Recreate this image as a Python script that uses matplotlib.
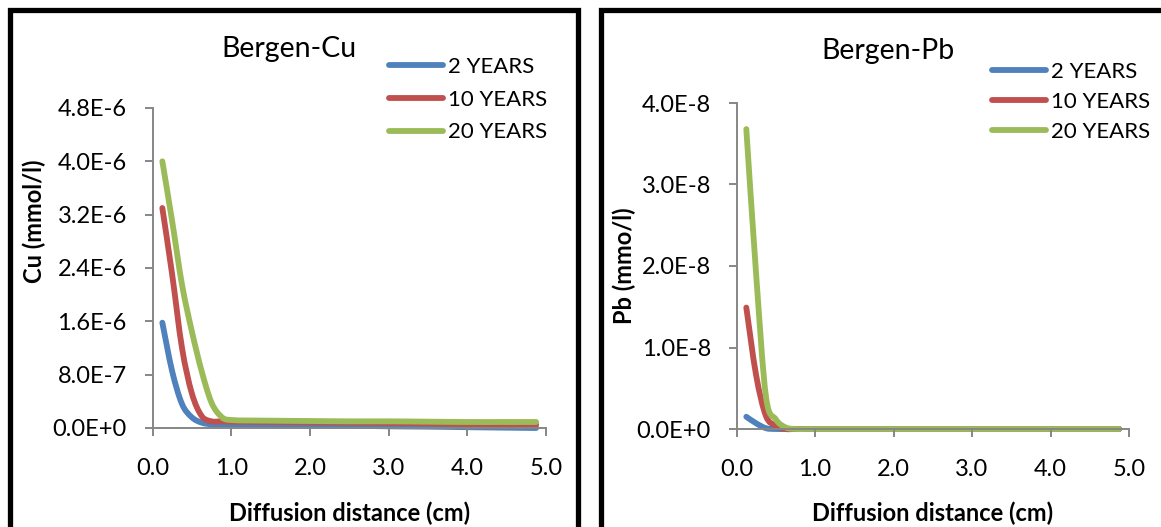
import math
import matplotlib
matplotlib.use("Agg")
import matplotlib.pyplot as plt
import matplotlib.ticker as ticker
from matplotlib.lines import Line2D
from matplotlib.path import Path
from matplotlib.patches import PathPatch

plt.rcParams["font.family"] = ["Lato", "DejaVu Sans"]

# diffusion distance (cm)
distance = [0.125, 0.25, 0.375, 0.5, 0.625, 0.75, 0.875, 1.0, 1.5, 2.0, 2.5, 3.0, 3.5, 4.0, 4.5, 4.875]
series_names = ["2 YEARS", "10 YEARS", "20 YEARS"]

# Cu concentration (mmol/l)
cu_2y = [1.58e-6, 0.85e-6, 0.36e-6, 0.16e-6, 0.08e-6, 0.055e-6, 0.05e-6, 0.05e-6, 0.045e-6, 0.04e-6,
         0.035e-6, 0.025e-6, 0.02e-6, 0.012e-6, 0.005e-6, 0.0]
cu_10y = [3.3e-6, 2.3e-6, 1.2e-6, 0.52e-6, 0.18e-6, 0.1e-6, 0.1e-6, 0.095e-6, 0.09e-6, 0.085e-6,
          0.08e-6, 0.075e-6, 0.07e-6, 0.06e-6, 0.055e-6, 0.05e-6]
cu_20y = [4.0e-6, 3.1e-6, 2.15e-6, 1.45e-6, 0.85e-6, 0.38e-6, 0.17e-6, 0.12e-6, 0.11e-6, 0.105e-6,
          0.1e-6, 0.1e-6, 0.095e-6, 0.09e-6, 0.09e-6, 0.09e-6]

# Pb concentration (mmol/l)
pb_2y = [0.15e-8, 0.07e-8, 0.01e-8, 0.0, 0.0, 0.0, 0.0, 0.0, 0.0, 0.0, 0.0, 0.0, 0.0, 0.0, 0.0, 0.0]
pb_10y = [1.49e-8, 0.66e-8, 0.16e-8, 0.04e-8, 0.0, 0.0, 0.0, 0.0, 0.0, 0.0, 0.0, 0.0, 0.0, 0.0, 0.0, 0.0]
pb_20y = [3.68e-8, 1.9e-8, 0.4e-8, 0.12e-8, 0.02e-8, 0.0, 0.0, 0.0, 0.0, 0.0, 0.0, 0.0, 0.0, 0.0, 0.0, 0.0]

colors = ["#4F81BD", "#C0504D", "#9BBB59"]
W, H = 1161, 527
LW = 4.2


def sci_fmt(v, pos):
    if abs(v) < 1e-15:
        return "0.0E+0"
    e = math.floor(math.log10(abs(v)) + 1e-9)
    m = round(v / 10 ** e, 1)
    if abs(m) >= 10:
        m /= 10
        e += 1
    return f"{m:.1f}E{e:+d}"


def smooth_path(x, y):
    # Excel style smoothed line: cubic bezier through every point
    verts = [(x[0], y[0])]
    codes = [Path.MOVETO]
    n = len(x)
    for i in range(n - 1):
        a = max(i - 1, 0)
        b = min(i + 2, n - 1)
        c1 = (x[i] + (x[i + 1] - x[a]) / 6, y[i] + (y[i + 1] - y[a]) / 6)
        c2 = (x[i + 1] - (x[b] - x[i]) / 6, y[i + 1] - (y[b] - y[i]) / 6)
        verts += [c1, c2, (x[i + 1], y[i + 1])]
        codes += [Path.CURVE4] * 3
    return Path(verts, codes)


def draw_panel(ax, series, ymax, ystep, title, ylabel, title_xy, ylabel_xy, legend_xy, spacing):
    handles = []
    for vals, name, c in zip(series, series_names, colors):
        ax.add_patch(PathPatch(smooth_path(distance, vals), fill=False, edgecolor=c, lw=LW,
                               capstyle="round", joinstyle="round", clip_on=False))
        h, = ax.plot([], [], color=c, lw=LW, solid_capstyle="round", label=name)
        handles.append(h)
    ax.set_xlim(0, 5)
    ax.set_ylim(0, ymax)
    ax.xaxis.set_major_locator(ticker.MultipleLocator(1.0))
    ax.xaxis.set_major_formatter(ticker.FormatStrFormatter("%.1f"))
    ax.yaxis.set_major_locator(ticker.MultipleLocator(ystep))
    ax.yaxis.set_major_formatter(ticker.FuncFormatter(sci_fmt))
    for s in ["top", "right"]:
        ax.spines[s].set_visible(False)
    for s in ["left", "bottom"]:
        ax.spines[s].set_color("#868686")
        ax.spines[s].set_linewidth(1.4)
    ax.tick_params(axis="both", colors="#868686", labelcolor="black", width=1.4, length=5.5,
                   labelsize=17)
    ax.tick_params(axis="x", pad=16)
    ax.tick_params(axis="y", pad=13)
    ax.set_xlabel("Diffusion distance (cm)", fontsize=17, fontweight="bold")
    fig.text(title_xy[0] / W, 1 - title_xy[1] / H, title, fontsize=20.5, ha="center", va="baseline")
    fig.text(ylabel_xy[0] / W, 1 - ylabel_xy[1] / H, ylabel, fontsize=17, fontweight="bold",
             rotation=90, ha="center", va="center")
    ax.legend(handles=handles, loc="upper left", bbox_to_anchor=(legend_xy[0] / W, 1 - legend_xy[1] / H),
              bbox_transform=fig.transFigure, frameon=False, fontsize=16, borderpad=0,
              handlelength=2.45, handletextpad=0.2, labelspacing=spacing, borderaxespad=0)


fig = plt.figure(figsize=(W / 100, H / 100), dpi=100)
fig.patch.set_facecolor("white")

ax1 = fig.add_axes([152.5 / W, (H - 428) / H, (546 - 152.5) / W, 320 / H])
ax2 = fig.add_axes([736.5 / W, (H - 429) / H, (1129 - 736.5) / W, 326 / H])

draw_panel(ax1, [cu_2y, cu_10y, cu_20y], 4.8e-6, 0.8e-6, "Bergen-Cu", "Cu (mmol/l)",
           (289, 57), (34, 221), (389, 57), 0.57)
draw_panel(ax2, [pb_2y, pb_10y, pb_20y], 4.0e-8, 1.0e-8, "Bergen-Pb", "Pb (mmo/l)",
           (888, 59), (624, 266), (992, 62), 0.44)

ax1.xaxis.set_label_coords(0.5, -(502 - 428) / 320)
ax2.xaxis.set_label_coords(0.5, -(502 - 429) / 326)

# panel borders
for xs, ys in [([10, 10, 578, 578], [540, 10, 10, 540]), ([601, 601, 1170], [540, 10, 10])]:
    fig.add_artist(Line2D([x / W for x in xs], [1 - y / H for y in ys], color="black", lw=3.8,
                          solid_joinstyle="miter"))

fig.savefig("out.png", dpi=100, facecolor="white")
